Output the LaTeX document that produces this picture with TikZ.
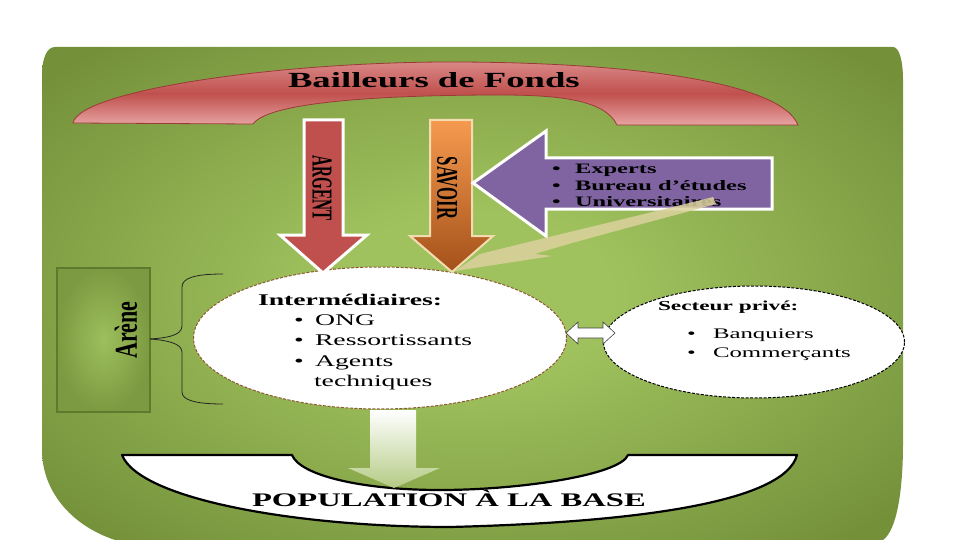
\documentclass[tikz,border=0pt]{standalone}
\usepackage{fontspec}
\setmainfont{Liberation Serif}
\usepackage{graphicx}
\usetikzlibrary{shapes.geometric}
\definecolor{bgin}{HTML}{A0C25E}
\definecolor{bgout}{HTML}{74913A}
\definecolor{bandA}{HTML}{D98887}
\definecolor{bandB}{HTML}{C0504D}
\definecolor{bandC}{HTML}{E6A3A2}
\definecolor{bandD}{HTML}{9B3B38}
\definecolor{argred}{HTML}{C0504D}
\definecolor{savtop}{HTML}{F59A4F}
\definecolor{savbot}{HTML}{A4511A}
\definecolor{savedge}{HTML}{F3DDB0}
\definecolor{purp}{HTML}{8064A2}
\definecolor{tanarrow}{HTML}{DCD29E}
\definecolor{arenein}{HTML}{9DBF5C}
\definecolor{areneout}{HTML}{7C9A41}
\definecolor{areneedge}{HTML}{5E7A2C}
\definecolor{ellbrown}{HTML}{8A5A2E}
\definecolor{downbot}{HTML}{B4CB84}
\pgfdeclareradialshading{bgshade}{\pgfpoint{0bp}{0bp}}{color(0bp)=(bgin); color(8bp)=(bgin); color(33bp)=(bgout); color(50bp)=(bgout)}
\newcommand{\sx}[1]{\scalebox{1.7}[1]{#1}}
\tikzset{
  txt/.style={inner sep=0pt, outer sep=0pt},
  hdr/.style={txt, anchor=base west},
  itm/.style={txt, anchor=base west},
  blockarrow/.style={line join=miter},
  ellbox/.style={ellipse, fill=white, inner sep=0pt, line width=1pt, dash pattern=on 3pt off 1.5pt}
}
\begin{document}
\begin{tikzpicture}[x=1pt,y=-1pt]
\useasboundingbox (0,0) rectangle (960,540);
\fill[white] (0,0) rectangle (960,540);
% green background
\path[shading=bgshade]
  (55,47) -- (893,47) .. controls (899,47) and (903,60) .. (903,80)
  -- (903,443) .. controls (903,490) and (897,530) .. (883,540)
  -- (115,540) .. controls (70,525) and (42,490) .. (42,450)
  -- (42,75) .. controls (42,58) and (47,47) .. (55,47) -- cycle;

% top band
\path[top color=bandA, bottom color=bandC, middle color=bandB, draw=bandD, line width=0.8pt]
  (73,123) .. controls (80,90) and (280,62) .. (450,62)
  .. controls (620,62) and (780,80) .. (798,125)
  -- (617,125) .. controls (605,100) and (560,95) .. (500,95)
  .. controls (400,95) and (270,100) .. (253,124) -- cycle;
\node[hdr, font=\fontsize{21.6}{24}\selectfont\bfseries] (bailleurs) at (288,88) {\sx{Bailleurs de Fonds}};

% ellipses
\node[ellbox, draw=ellbrown, minimum width=373pt, minimum height=142pt] (inter) at (380,338) {};
\node[ellbox, draw=black, minimum width=301pt, minimum height=112pt] (secteur) at (754,342) {};

% ARGENT arrow
\draw[blockarrow, fill=argred, draw=white, line width=3pt]
  (304,120) -- (343,120) -- (343,235) -- (367,235) -- (323,273) -- (280,235) -- (304,235) -- cycle;
\node[txt, font=\fontsize{15.2}{18}\selectfont\bfseries] (argent) at (322,188) {\scalebox{1.9}[1]{\rotatebox{-90}{ARGENT}}};

% SAVOIR arrow
\path[blockarrow, top color=savtop, bottom color=savbot, draw=savedge, line width=2pt]
  (430,120) -- (472,120) -- (472,236) -- (493,236) -- (452,272) -- (410,236) -- (430,236) -- cycle;
\node[txt, font=\fontsize{16.7}{18}\selectfont\bfseries] (savoir) at (447,188) {\scalebox{1.8}[1]{\rotatebox{-90}{SAVOIR}}};

% purple arrow
\fill[purp] (473,183) -- (546,131) -- (546,158) -- (772,158) -- (772,209) -- (546,209) -- (546,236) -- cycle;
\begin{scope}
  \clip (473,183) -- (546,131) -- (546,158) -- (772,158) -- (772,208) -- (546,208) -- (546,236) -- cycle;
  \node[itm, font=\fontsize{14.4}{16}\selectfont\bfseries] (pb1) at (552,174) {\sx{\textbullet}};
  \node[itm, font=\fontsize{14.4}{16}\selectfont\bfseries] (pb2) at (552,190) {\sx{\textbullet}};
  \node[itm, font=\fontsize{14.4}{16}\selectfont\bfseries] (pb3) at (552,206) {\sx{\textbullet}};
  \node[itm, font=\fontsize{14.4}{16}\selectfont\bfseries] (experts) at (575,174) {\sx{Experts}};
  \node[itm, font=\fontsize{14.4}{16}\selectfont\bfseries] (bureau) at (575,190) {\sx{Bureau d’études}};
  \node[itm, font=\fontsize{14.4}{16}\selectfont\bfseries] (univ) at (575,206) {\sx{Universitaires}};
\end{scope}
\draw[blockarrow, draw=white, line width=3pt] (473,183) -- (546,131) -- (546,158) -- (772,158) -- (772,209) -- (546,209) -- (546,236) -- cycle;

% tan arrow
\fill[tanarrow, opacity=0.85]
  (455,271) -- (480,254) .. controls (560,234) and (650,213) .. (713,197)
  -- (716,204) .. controls (650,222) and (580,240) .. (535,254) -- (552,256) -- cycle;

% Arene box and brace
\node[draw=areneedge, line width=1.2pt, inner color=arenein, outer color=areneout,
      minimum width=93pt, minimum height=144pt, inner sep=0pt] (arenebox) at (103.5,340) {};
\node[txt, font=\fontsize{22}{24}\selectfont\bfseries] (arene) at (126,330) {\scalebox{1.45}[1]{\rotatebox{90}{Arène}}};
\draw[line width=0.8pt, black!85]
  (150,339) .. controls (165,338) and (182,336) .. (182,326) -- (182,287)
  .. controls (182,278) and (195,274) .. (223,274);
\draw[line width=0.8pt, black!85]
  (150,339) .. controls (165,340) and (182,343) .. (182,352) -- (182,392)
  .. controls (182,400) and (195,404) .. (223,404);

% Intermediaires text
\node[hdr, font=\fontsize{16.3}{18}\selectfont\bfseries] (interhdr) at (258,305) {\sx{Intermédiaires:}};
\node[itm, font=\fontsize{16.3}{18}\selectfont] (ib1) at (294,325) {\sx{\textbullet}};
\node[itm, font=\fontsize{16.3}{18}\selectfont] (ib2) at (294,345) {\sx{\textbullet}};
\node[itm, font=\fontsize{16.3}{18}\selectfont] (ib3) at (294,366) {\sx{\textbullet}};
\node[itm, font=\fontsize{16.3}{18}\selectfont] (ong) at (315,325) {\sx{ONG}};
\node[itm, font=\fontsize{16.3}{18}\selectfont] (ress) at (315,345) {\sx{Ressortissants}};
\node[itm, font=\fontsize{16.3}{18}\selectfont] (agents) at (315,366) {\sx{Agents}};
\node[itm, font=\fontsize{16.3}{18}\selectfont] (tech) at (314,386) {\sx{techniques}};

% Secteur prive text
\node[hdr, font=\fontsize{13.7}{16}\selectfont\bfseries] (sechdr) at (658,310) {\sx{Secteur privé:}};
\node[itm, font=\fontsize{14.6}{16}\selectfont] (sb1) at (687,338) {\sx{\textbullet}};
\node[itm, font=\fontsize{14.6}{16}\selectfont] (sb2) at (687,357) {\sx{\textbullet}};
\node[itm, font=\fontsize{14.6}{16}\selectfont] (banq) at (713,338) {\sx{Banquiers}};
\node[itm, font=\fontsize{14.6}{16}\selectfont] (comm) at (713,357) {\sx{Commerçants}};

% double arrow between ellipses
\draw[blockarrow, fill=white, draw=black!75, line width=0.6pt]
  (566,333) -- (578,322) -- (578,328) -- (603,328) -- (603,322) -- (615,333)
  -- (603,344) -- (603,338) -- (578,338) -- (578,344) -- cycle;

% population shape
\draw[fill=white, draw=black, line width=2.2pt, line join=round]
  (122,455) -- (292,455) .. controls (300,475) and (360,490) .. (440,490)
  .. controls (520,490) and (620,475) .. (628,455) -- (797,455)
  .. controls (785,500) and (650,522) .. (450,527)
  .. controls (300,527) and (140,500) .. (122,455) -- cycle;
\node[hdr, font=\fontsize{19.2}{22}\selectfont\bfseries] (pop) at (252,506) {\sx{POPULATION À LA BASE}};

% down arrow
\path[blockarrow, top color=white, bottom color=downbot]
  (370,410) -- (416,410) -- (416,468) -- (440,468) -- (394,488) -- (348,468) -- (370,468) -- cycle;
\end{tikzpicture}
\end{document}
